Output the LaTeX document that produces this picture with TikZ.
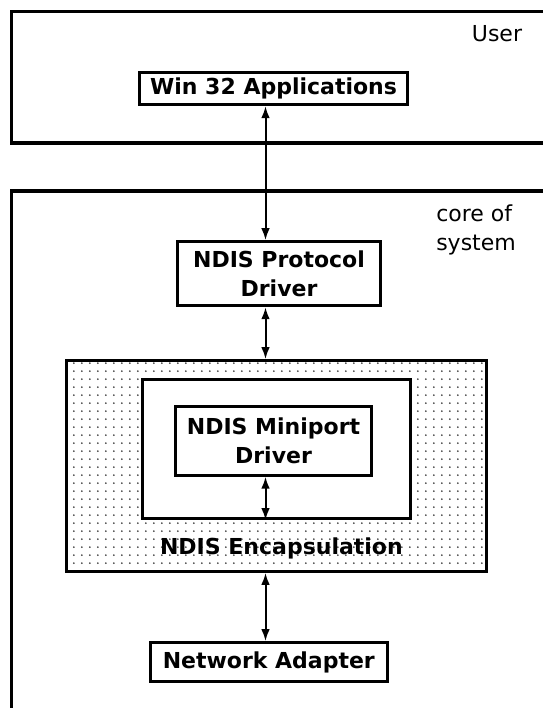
\documentclass[tikz,border=0pt]{standalone}
\usepackage{fontspec}
\setmainfont{DejaVu Sans}
\usetikzlibrary{arrows.meta, patterns.meta}

%% fine dot raster for the encapsulation layer
\tikzdeclarepattern{
  name=stipple,
  type=uncolored,
  bottom left={(0pt,0pt)},
  top right={(5.9pt,5.9pt)},
  tile size={(5.9pt,5.9pt)},
  code={\fill (2.95pt,2.95pt) circle (0.75pt);}
}

\begin{document}
\begin{tikzpicture}[
  x=0.75pt, y=-0.75pt,
  >={Latex[length=9pt,width=6.5pt]},
  frame/.style={line width=2.3pt},
  box/.style={rectangle, draw, line width=2.3pt, fill=white, inner sep=0pt, align=center, font=\bfseries\fontsize{16.5}{22}\selectfont},
  dotbox/.style={box, fill=none, pattern=stipple, pattern color=black!85},
  note/.style={inner sep=0pt, font=\fontsize{16.5}{22}\selectfont},
  arr/.style={<->, line width=1.5pt},
]
\fill[white] (0,0) rectangle (543,708);
\useasboundingbox (0,0) rectangle (543,708);
\clip (0,0) rectangle (543,708);

%% Layers
\draw[frame] (545,11.3) -- (11.3,11.3) -- (11.3,143) -- (545,143);
\draw[frame] (545,191) -- (11.3,191) -- (11.3,710);
\node[note, anchor=center] (user) at (497,33.5) {User};
\node[note, anchor=west, align=left] (core) at (436,230) {core of\\system};

%% Applications
\node[box, minimum width=201pt, minimum height=24.4pt] (win) at (273.5,88.3) {Win 32 Applications};

%% Protocol driver
\node[box, minimum width=152.5pt, minimum height=48pt] (proto) at (279,273.7) {NDIS Protocol\\Driver};

%% Encapsulation
\node[dotbox, minimum width=315pt, minimum height=158pt] (encap) at (276.7,466) {};
\node[box, minimum width=201pt, minimum height=104.6pt] (inner) at (276.3,448.8) {};
\node[box, minimum width=146.5pt, minimum height=51.5pt] (mini) at (273.5,440.8) {NDIS Miniport\\Driver};
\node[note, font=\bfseries\fontsize{16.5}{22}\selectfont] (encaplbl) at (281.4,548) {NDIS Encapsulation};

%% Adapter
\node[box, minimum width=177.5pt, minimum height=29pt] (net) at (268.8,662) {Network Adapter};

%% Arrows
\coordinate (spine) at (265.5,0);
\draw[arr] (win.south -| spine) -- (proto.north -| spine);
\draw[arr] (proto.south -| spine) -- (encap.north -| spine);
\draw[arr] (mini.south -| spine) -- (inner.south -| spine);
\draw[arr] (encap.south -| spine) -- (net.north -| spine);

\end{tikzpicture}
\end{document}
